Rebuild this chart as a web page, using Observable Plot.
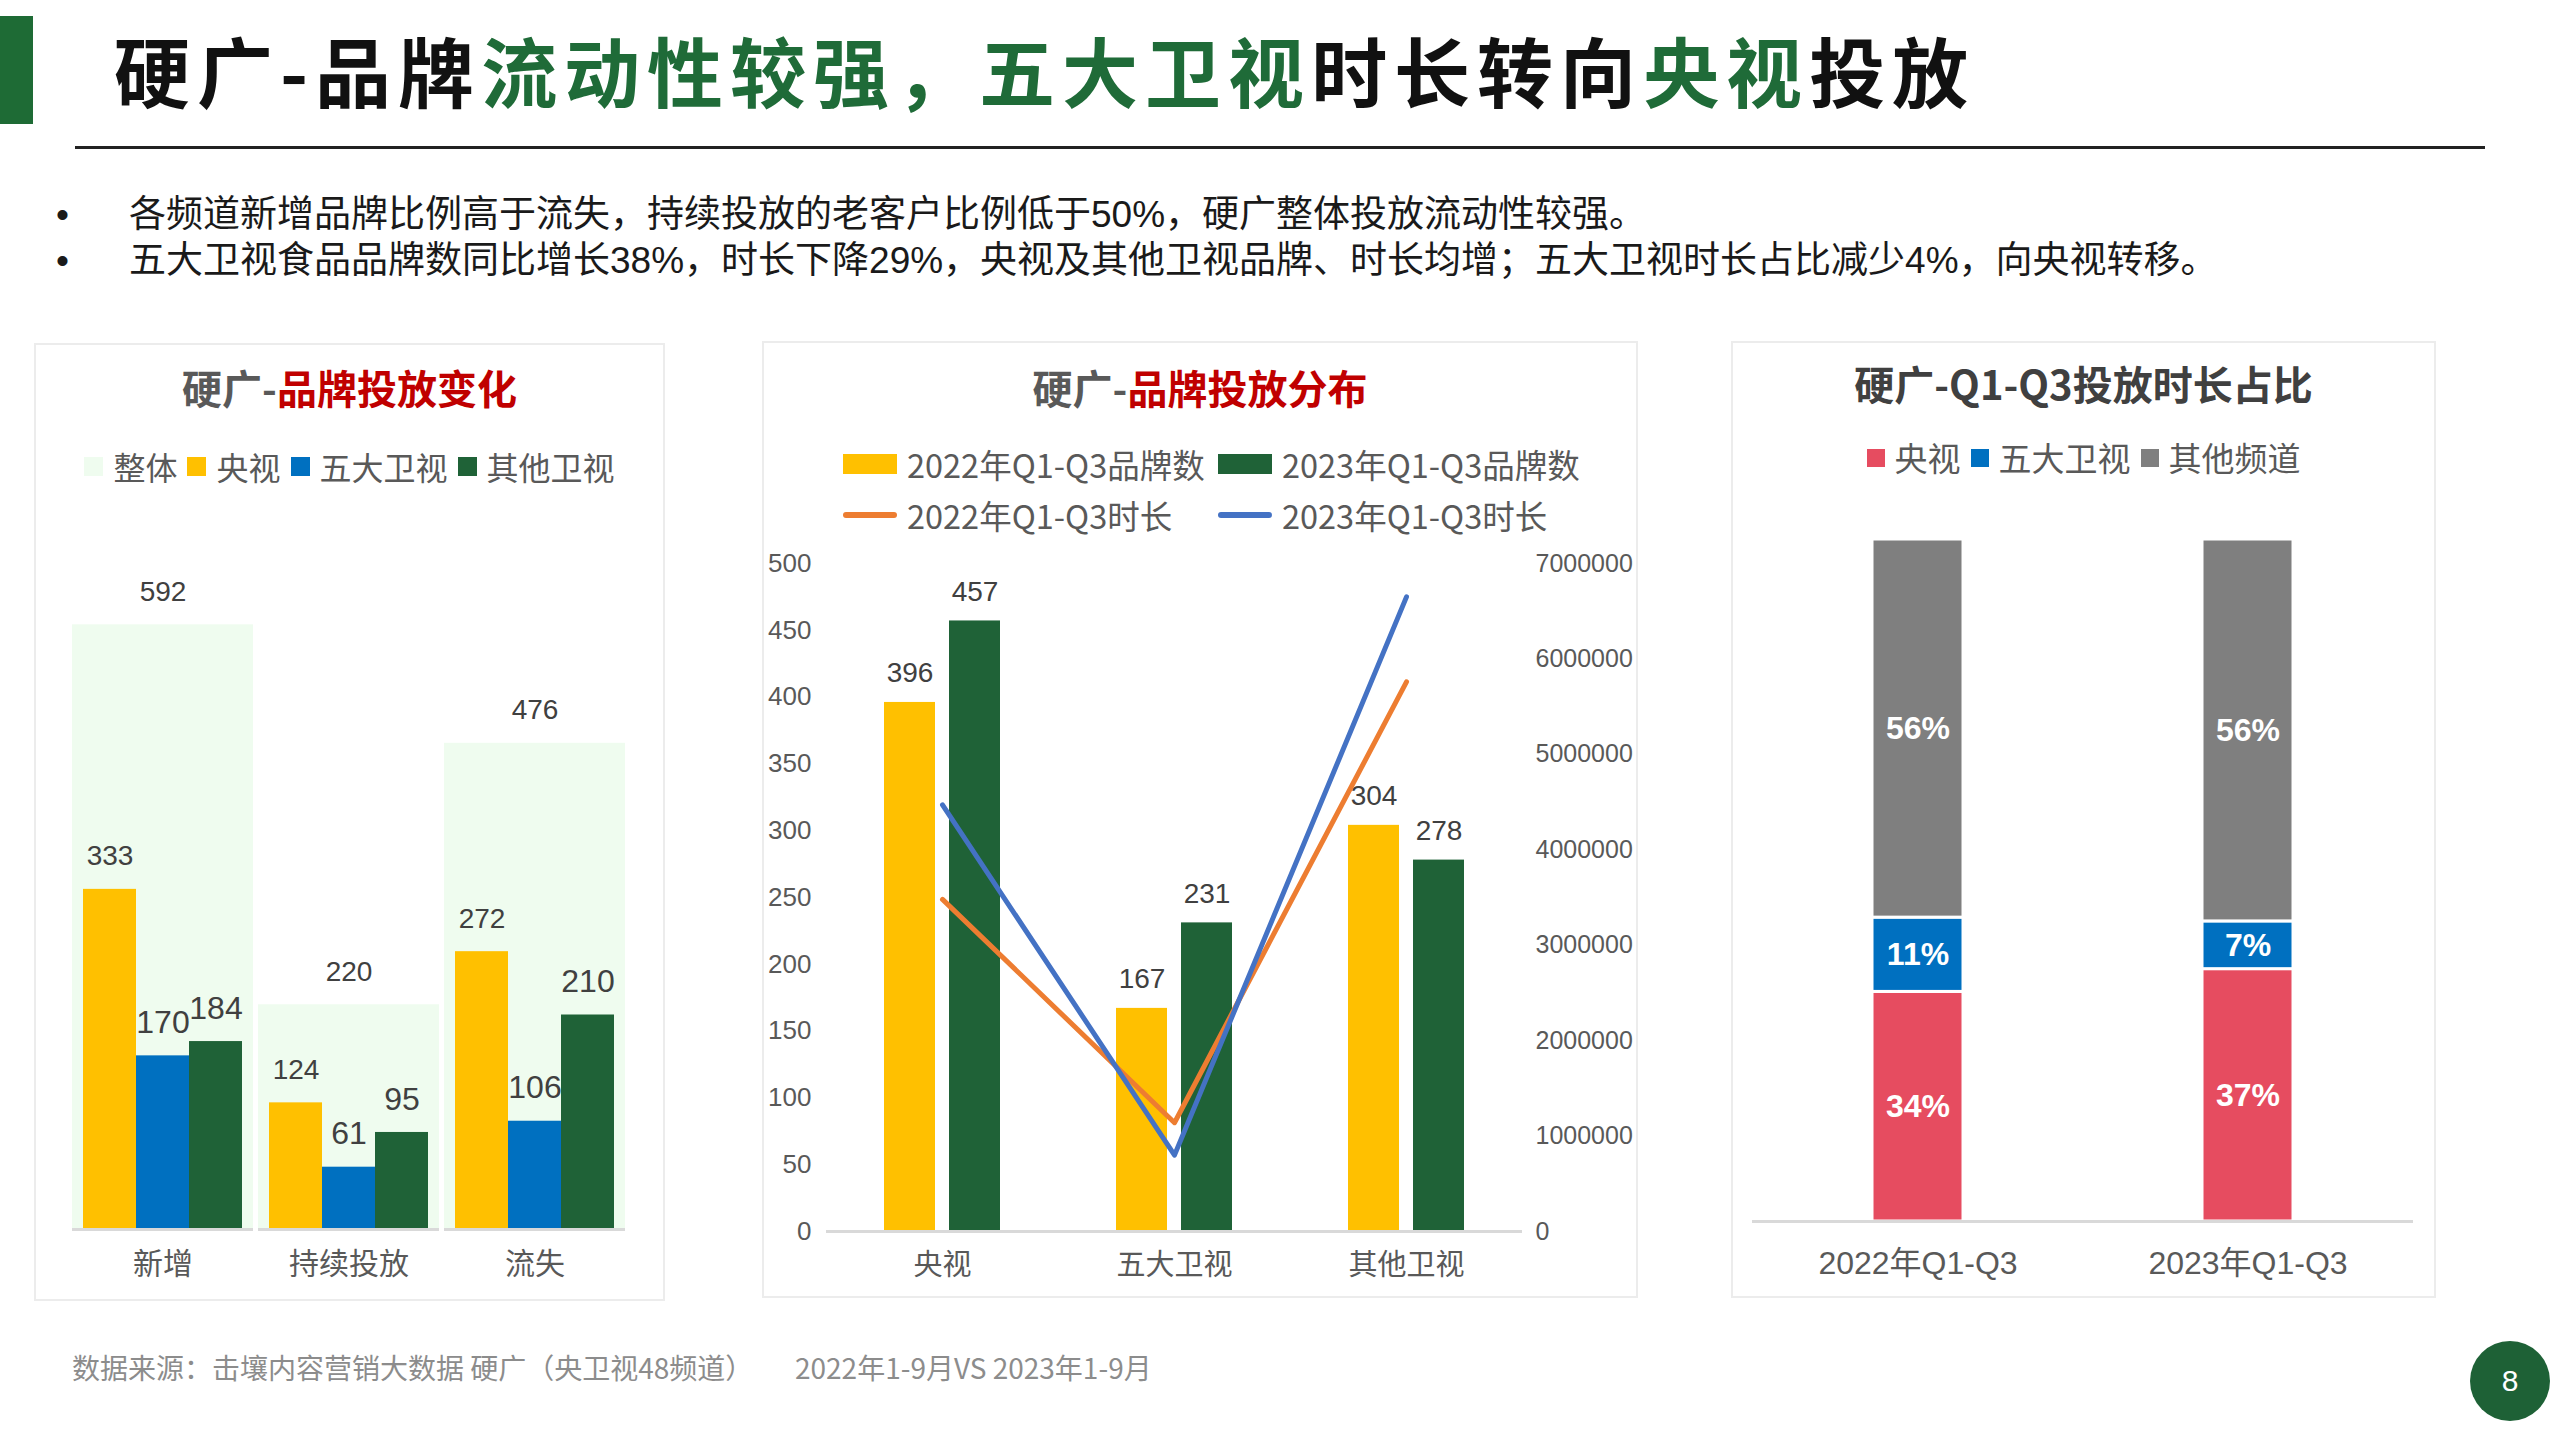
<!DOCTYPE html>
<html lang="zh-CN">
<head>
<meta charset="utf-8">
<script src="https://cdn.jsdelivr.net/npm/d3@7"></script>
<script src="https://cdn.jsdelivr.net/npm/@observablehq/plot@0.6"></script>
<style>
html,body{margin:0;padding:0;background:#fff;}
body{width:2560px;height:1440px;position:relative;overflow:hidden;font-family:"Noto Sans CJK SC","Liberation Sans",sans-serif;}
.a{position:absolute;}
.panel{position:absolute;border:2px solid #ececec;box-sizing:border-box;}
.ptitle{position:absolute;left:0;right:0;text-align:center;font-weight:700;font-size:40px;line-height:1;color:#595959;white-space:nowrap;}
.ptitle .r{color:#c00000;}
.legend{position:absolute;left:0;right:0;display:flex;justify-content:center;align-items:center;font-size:32px;color:#595959;line-height:1;white-space:nowrap;}
.legend .it{display:flex;align-items:center;margin:0 5px;}
.legend .sw{width:19px;height:19px;display:inline-block;margin-right:10px;}
.leg2{position:absolute;display:flex;align-items:center;font-size:32.5px;color:#595959;line-height:1;white-space:nowrap;}
.leg2 .box{width:54px;height:20px;display:inline-block;margin-right:10px;}
.leg2 .ln{width:54px;height:6px;border-radius:3px;display:inline-block;margin-right:10px;}
.bul{position:absolute;font-family:"Liberation Sans","Noto Sans CJK SC",sans-serif;font-size:37px;line-height:1;color:#1a1a1a;white-space:nowrap;}
</style>
</head>
<body>
<script>
// ---------- Data ----------
const changeCategories = ["新增", "持续投放", "流失"];
const changeSeries = ["央视", "五大卫视", "其他卫视"];
const changeTotal = [592, 220, 476];
const changeCCTV = [333, 124, 272];
const changeTop5 = [170, 61, 106];
const changeOther = [184, 95, 210];

const distCategories = ["央视", "五大卫视", "其他卫视"];
const distSeries = ["2022年Q1-Q3品牌数", "2023年Q1-Q3品牌数", "2022年Q1-Q3时长", "2023年Q1-Q3时长"];
const brands2022 = [396, 167, 304];
const brands2023 = [457, 231, 278];
const duration2022 = [3480000, 1140000, 5760000];
const duration2023 = [4470000, 800000, 6650000];
const leftTicks = [0, 50, 100, 150, 200, 250, 300, 350, 400, 450, 500];
const rightTicks = [0, 1000000, 2000000, 3000000, 4000000, 5000000, 6000000, 7000000];

const shareYears = ["2022年Q1-Q3", "2023年Q1-Q3"];
const shareSeries = ["央视", "五大卫视", "其他频道"];
const shareCCTV = [34, 37];
const shareTop5 = [11, 7];
const shareOther = [56, 56];

// ---------- Colors ----------
const cYellow = "#ffc000", cBlue = "#0070c0", cGreen = "#1f6237", cTotal = "#effcef";
const cOrange = "#ed7d31", cLineBlue = "#4472c4";
const cRed = "#e64c60", cGray = "#7f7f7f";

const body = document.body;
function add(html) { body.insertAdjacentHTML("beforeend", html); }

// ---------- Page header ----------
add(`<div class="a" style="left:0;top:16px;width:33px;height:108px;background:#1e6b35"></div>`);
add(`<div class="a" style="left:114px;top:31px;font-size:76px;line-height:1;font-weight:700;letter-spacing:7px;color:#111;white-space:nowrap">硬广-品牌<span style="color:#1f6b38">流动性较强，五大卫视</span>时长转向<span style="color:#1f6b38">央视</span>投放</div>`);
add(`<div class="a" style="left:75px;top:146px;width:2410px;height:3px;background:#222"></div>`);
add(`<div class="bul" style="left:56px;top:196px">•</div>`);
add(`<div class="bul" style="left:129px;top:196px">各频道新增品牌比例高于流失，持续投放的老客户比例低于50%，硬广整体投放流动性较强。</div>`);
add(`<div class="bul" style="left:56px;top:242px">•</div>`);
add(`<div class="bul" style="left:129px;top:242px">五大卫视食品品牌数同比增长38%，时长下降29%，央视及其他卫视品牌、时长均增；五大卫视时长占比减少4%，向央视转移。</div>`);

// ---------- Panels ----------
add(`<div class="panel" style="left:34px;top:343px;width:631px;height:958px">
  <div class="ptitle" style="top:22px">硬广-<span class="r">品牌投放变化</span></div>
  <div class="legend" style="top:105px">
    <span class="it"><span class="sw" style="background:${cTotal}"></span>整体</span>
    <span class="it"><span class="sw" style="background:${cYellow}"></span>${changeSeries[0]}</span>
    <span class="it"><span class="sw" style="background:${cBlue}"></span>${changeSeries[1]}</span>
    <span class="it"><span class="sw" style="background:${cGreen}"></span>${changeSeries[2]}</span>
  </div>
</div>`);
add(`<div class="panel" style="left:762px;top:341px;width:876px;height:957px">
  <div class="ptitle" style="top:24px">硬广-<span class="r">品牌投放分布</span></div>
  <div class="leg2" style="left:79px;top:105px"><span class="box" style="background:${cYellow}"></span>${distSeries[0]}</div>
  <div class="leg2" style="left:454px;top:105px"><span class="box" style="background:${cGreen}"></span>${distSeries[1]}</div>
  <div class="leg2" style="left:79px;top:156px"><span class="ln" style="background:${cOrange}"></span>${distSeries[2]}</div>
  <div class="leg2" style="left:454px;top:156px"><span class="ln" style="background:${cLineBlue}"></span>${distSeries[3]}</div>
</div>`);
add(`<div class="panel" style="left:1731px;top:341px;width:705px;height:957px">
  <div class="ptitle" style="top:20px;color:#404040">硬广-Q1-Q3投放时长占比</div>
  <div class="legend" style="top:98px;font-size:33px">
    <span class="it"><span class="sw" style="background:${cRed};width:18px;height:18px"></span>${shareSeries[0]}</span>
    <span class="it"><span class="sw" style="background:${cBlue};width:18px;height:18px"></span>${shareSeries[1]}</span>
    <span class="it"><span class="sw" style="background:${cGray};width:18px;height:18px"></span>${shareSeries[2]}</span>
  </div>
</div>`);

// ---------- Footer ----------
add(`<div class="a" style="left:72px;top:1353px;font-size:28px;line-height:1;color:#8c8c8c;white-space:nowrap">数据来源：击壤内容营销大数据 硬广（央卫视48频道）</div>`);
add(`<div class="a" style="left:795px;top:1353px;font-size:28px;line-height:1;color:#8c8c8c;white-space:nowrap">2022年1-9月VS 2023年1-9月</div>`);
add(`<div class="a" style="left:2470px;top:1341px;width:80px;height:80px;border-radius:50%;background:#1e6136;color:#fff;font-family:'Liberation Sans',sans-serif;font-size:30px;line-height:80px;text-align:center">8</div>`);

const baseStyle = {fontFamily: '"Liberation Sans","Noto Sans CJK SC",sans-serif', fontSize: "26px", background: "transparent", overflow: "visible", color: "#595959"};

function place(svg, left, top) {
  svg.style.position = "absolute";
  svg.style.left = left + "px";
  svg.style.top = top + "px";
  body.appendChild(svg);
}

// ---------- Chart 1: 品牌投放变化 ----------
const totalRows = changeCategories.map((c, i) => ({category: c, value: changeTotal[i]}));
const seriesRows = changeCategories.flatMap((c, i) => [
  {category: c, series: changeSeries[0], value: changeCCTV[i]},
  {category: c, series: changeSeries[1], value: changeTop5[i]},
  {category: c, series: changeSeries[2], value: changeOther[i]}
]);
const chart1 = Plot.plot({
  width: 631, height: 800,
  marginLeft: 38, marginRight: 40, marginTop: 14, marginBottom: 71,
  style: baseStyle,
  fx: {domain: changeCategories, paddingInner: 0.027, paddingOuter: 0, label: null},
  x: {domain: changeSeries, paddingInner: 0, paddingOuter: 0.2075, axis: null},
  y: {domain: [0, 700], axis: null},
  color: {domain: changeSeries, range: [cYellow, cBlue, cGreen]},
  marks: [
    Plot.barY(totalRows, {fx: "category", y: "value", fill: cTotal}),
    Plot.text(totalRows, {fx: "category", y: "value", text: "value", dy: -33, fontSize: 28, fill: "#404040"}),
    Plot.barY(seriesRows, {fx: "category", x: "series", y: "value", fill: "series"}),
    Plot.text(seriesRows.filter(d => d.series === changeSeries[0]), {fx: "category", x: "series", y: "value", text: "value", dy: -33, fontSize: 28, fill: "#404040"}),
    Plot.text(seriesRows.filter(d => d.series !== changeSeries[0]), {fx: "category", x: "series", y: "value", text: "value", dy: -33, fontSize: 32, fill: "#404040"}),
    Plot.ruleY([0], {stroke: "#d9d9d9", strokeWidth: 3}),
    Plot.axisFx({anchor: "bottom", tickSize: 0, tickPadding: 23, fontSize: 30, fill: "#595959", label: null})
  ]
});
place(chart1, 34, 500);

// ---------- Chart 2: 品牌投放分布 ----------
const k = 500 / 7000000;
const brandRows2022 = distCategories.map((c, i) => ({category: c, value: brands2022[i]}));
const brandRows2023 = distCategories.map((c, i) => ({category: c, value: brands2023[i]}));
const durRows2022 = distCategories.map((c, i) => ({category: c, value: duration2022[i]}));
const durRows2023 = distCategories.map((c, i) => ({category: c, value: duration2023[i]}));
const chart2 = Plot.plot({
  width: 876, height: 758,
  marginLeft: 64, marginRight: 116, marginTop: 23, marginBottom: 67,
  style: baseStyle,
  x: {domain: distCategories, paddingInner: 0.5, paddingOuter: 0.25, label: null},
  y: {domain: [0, 500], label: null},
  marks: [
    Plot.axisY(leftTicks, {anchor: "left", tickSize: 0, tickPadding: 15, fontSize: 26, fill: "#595959", label: null}),
    Plot.axisY(rightTicks, {anchor: "right", y: d => d * k, tickFormat: d => d3.format("d")(d), tickSize: 0, tickPadding: 13, fontSize: 25, fill: "#595959", label: null}),
    Plot.axisX({anchor: "bottom", tickSize: 0, tickPadding: 23, fontSize: 29, fill: "#595959", label: null}),
    Plot.barY(brandRows2022, {x: "category", y: "value", fill: cYellow, insetRight: 65}),
    Plot.barY(brandRows2023, {x: "category", y: "value", fill: cGreen, insetLeft: 65}),
    Plot.ruleY([0], {stroke: "#d9d9d9", strokeWidth: 3}),
    Plot.text(brandRows2022, {x: "category", y: "value", text: "value", dx: -32.5, dy: -29, fontSize: 28, fill: "#404040"}),
    Plot.text(brandRows2023, {x: "category", y: "value", text: "value", dx: 32.5, dy: -29, fontSize: 28, fill: "#404040"}),
    Plot.line(durRows2022, {x: "category", y: d => d.value * k, stroke: cOrange, strokeWidth: 5, strokeLinecap: "round", strokeLinejoin: "round"}),
    Plot.line(durRows2023, {x: "category", y: d => d.value * k, stroke: cLineBlue, strokeWidth: 5, strokeLinecap: "round", strokeLinejoin: "round"})
  ]
});
place(chart2, 762, 540);

// ---------- Chart 3: 投放时长占比 ----------
const shareRows = shareYears.flatMap((y, i) => [
  {year: y, series: shareSeries[0], value: shareCCTV[i]},
  {year: y, series: shareSeries[1], value: shareTop5[i]},
  {year: y, series: shareSeries[2], value: shareOther[i]}
]);
const chart3 = Plot.plot({
  width: 705, height: 768,
  marginLeft: 21, marginRight: 23, marginTop: 9, marginBottom: 77,
  style: baseStyle,
  x: {domain: shareYears, paddingInner: 0.725, paddingOuter: 0.3625, label: null},
  y: {axis: null},
  color: {domain: shareSeries, range: [cRed, cBlue, cGray]},
  marks: [
    Plot.barY(shareRows, Plot.stackY({offset: "normalize"}, {x: "year", y: "value", fill: "series", stroke: "#ffffff", strokeWidth: 3})),
    Plot.text(shareRows, Plot.stackY({offset: "normalize"}, {x: "year", y: "value", text: d => d.value + "%", fill: "#ffffff", fontSize: 32, fontWeight: "bold"})),
    Plot.ruleY([0], {stroke: "#d9d9d9", strokeWidth: 3}),
    Plot.axisX({anchor: "bottom", tickSize: 0, tickPadding: 30, fontSize: 32, fill: "#595959", label: null})
  ]
});
place(chart3, 1731, 530);
</script>
</body>
</html>
